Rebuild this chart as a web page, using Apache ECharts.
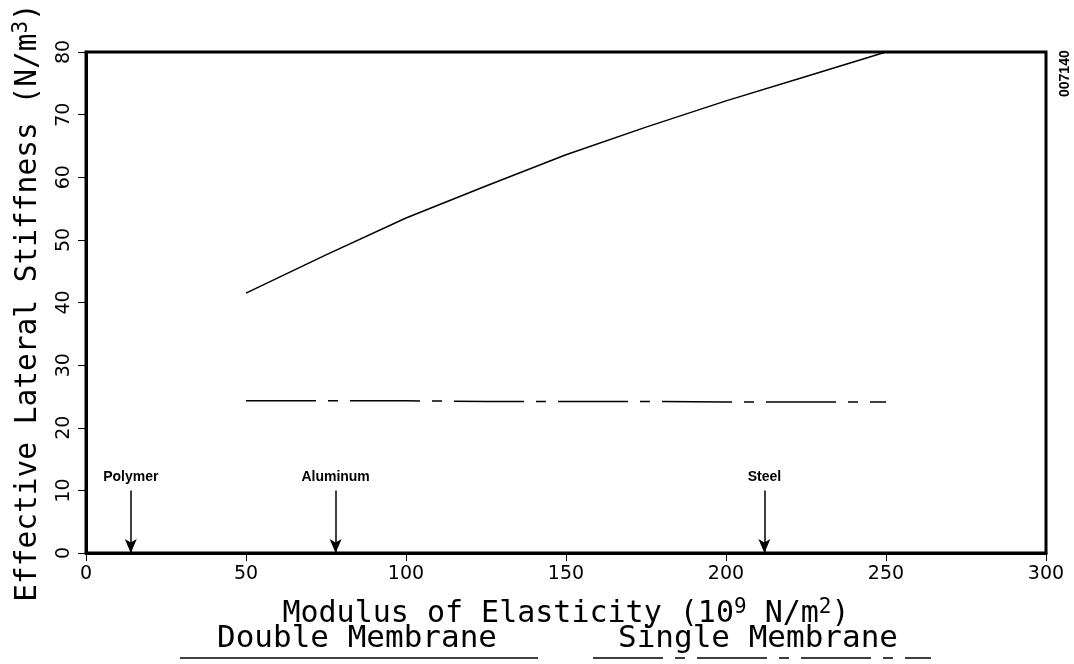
<!DOCTYPE html>
<html>
<head>
<meta charset="utf-8">
<script src="https://cdn.jsdelivr.net/npm/echarts@6/dist/echarts.min.js"></script>
<style>
  html, body { margin: 0; padding: 0; background: #fff; }
  #chart { width: 1074px; height: 664px; }
</style>
</head>
<body>
<div id="chart"></div>
<script>
// modulus (10^9 N/m^2) vs. effective lateral stiffness (N/m^3)
let modulus = [50, 75, 100, 125, 150, 175, 200, 225, 250];
let doubleMembrane = [41.5, 47.6, 53.5, 58.6, 63.6, 68.0, 72.2, 76.1, 80];
let singleMembrane = [24.3, 24.3, 24.3, 24.2, 24.2, 24.2, 24.1, 24.1, 24.1];

// material markers on the x axis
let materialNames = ['Polymer', 'Aluminum', 'Steel'];
let materialModulus = [14, 78, 212];
let arrowTop = 10;

let xTicks = [0, 50, 100, 150, 200, 250, 300];
let yTicks = [0, 10, 20, 30, 40, 50, 60, 70, 80];

// plotter-like lettering
const titleFont = 'DejaVu Sans Mono';
const tickFont = 'DejaVu Sans';

function pairs(xs, ys) {
    return xs.map(function (x, i) { return [x, ys[i]]; });
}

let myChart = echarts.init(document.getElementById('chart'));

let option = {
    backgroundColor: '#fff',
    animation: false,
    grid: {
        left: 86,
        right: 28,
        top: 52,
        bottom: 111,
        show: true,
        borderColor: '#000',
        borderWidth: 3
    },
    xAxis: {
        type: 'value',
        min: xTicks[0],
        max: xTicks[xTicks.length - 1],
        interval: 50,
        axisLine: { show: true, lineStyle: { color: '#000', width: 3 } },
        axisTick: { show: true, length: 8, lineStyle: { color: '#000', width: 1 } },
        splitLine: { show: false },
        axisLabel: { color: '#000', fontSize: 19, fontFamily: tickFont, margin: 12 },
        name: 'Modulus of Elasticity (10{sup|9} N/m{sup|2})',
        nameLocation: 'middle',
        nameGap: 44,
        nameTextStyle: {
            color: '#000', fontSize: 30, fontFamily: titleFont,
            rich: {
                sup: { fontSize: 21, fontFamily: titleFont, color: '#000', verticalAlign: 'top', padding: [0, 0, 14, 0] }
            }
        }
    },
    yAxis: {
        type: 'value',
        min: yTicks[0],
        max: yTicks[yTicks.length - 1],
        interval: 10,
        axisLine: { show: true, lineStyle: { color: '#000', width: 3 } },
        axisTick: { show: true, length: 8, lineStyle: { color: '#000', width: 1 } },
        splitLine: { show: false },
        axisLabel: { color: '#000', fontSize: 19, fontFamily: tickFont, rotate: 90, margin: 12 },
        name: 'Effective Lateral Stiffness (N/m{sup|3})',
        nameLocation: 'middle',
        nameRotate: 90,
        nameGap: 40,
        nameTextStyle: {
            color: '#000', fontSize: 29.5, fontFamily: titleFont,
            rich: {
                sup: { fontSize: 21, fontFamily: titleFont, color: '#000', verticalAlign: 'top', padding: [0, 0, 14, 0] }
            }
        }
    },
    series: [{
        name: 'Double Membrane',
        type: 'line',
        data: pairs(modulus, doubleMembrane),
        showSymbol: false,
        lineStyle: { color: '#000', width: 1.5 },
        markLine: {
            silent: true,
            symbol: ['none', 'arrow'],
            symbolSize: [9, 14],
            lineStyle: { color: '#000', width: 1.5, type: 'solid' },
            label: {
                show: true,
                position: 'start',
                color: '#000',
                fontFamily: 'Liberation Sans',
                fontWeight: 'bold',
                fontSize: 14,
                distance: 6,
                formatter: function (p) { return p.name; }
            },
            data: materialNames.map(function (n, i) {
                return [
                    { name: n, coord: [materialModulus[i], arrowTop] },
                    { coord: [materialModulus[i], 0] }
                ];
            })
        }
    }, {
        name: 'Single Membrane',
        type: 'line',
        data: pairs(modulus, singleMembrane),
        showSymbol: false,
        lineStyle: { color: '#000', width: 1.5, type: [70, 12, 10, 12] }
    }],
    graphic: [
        { type: 'text', left: 217, top: 623, style: { text: 'Double Membrane', font: '31px "DejaVu Sans Mono"', fill: '#000' } },
        { type: 'line', shape: { x1: 180, y1: 658, x2: 538, y2: 658 }, style: { stroke: '#000', lineWidth: 1.5 } },
        { type: 'text', left: 618, top: 623, style: { text: 'Single Membrane', font: '31px "DejaVu Sans Mono"', fill: '#000' } },
        { type: 'line', shape: { x1: 593, y1: 658, x2: 931, y2: 658 }, style: { stroke: '#000', lineWidth: 1.5, lineDash: [70, 12, 10, 12] } },
        { type: 'text', rotation: Math.PI / 2, x: 1058, y: 97, style: { text: '007140', font: 'bold 14px "Liberation Sans"', fill: '#000' } }
    ]
};

myChart.setOption(option);
</script>
</body>
</html>
